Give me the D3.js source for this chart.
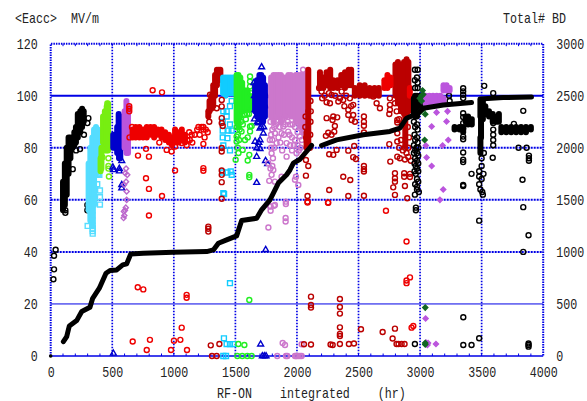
<!DOCTYPE html>
<html>
<head>
<meta charset="utf-8">
<script src="https://cdn.jsdelivr.net/npm/d3@7"></script>
<style>
html, body { margin: 0; padding: 0; background: #fff; }
text { font-family: "Liberation Mono", "DejaVu Sans Mono", monospace; fill: #222; }
</style>
</head>
<body>
<svg id="chart" width="587" height="401"></svg>
<script>
// dense runs where the markers merge: [hours, low, high]
// separate markers: [hours, Eacc]
var blackBands = [[100,56,67],[115,58,74],[130,62,80],[145,70,84],[160,76,84],[178,80,84],[192,81,86],[205,82,88],[220,84,93],[240,86,94],[255,88,95],[268,90,94]];
var blackRings = [[40,40.8],[27,38.5],[27,33.3],[22,29.5],[103,58.5],[119,56],[119,55],[179,71.8],[238,79.5],[206,79],[306,91.4],[298,89.5],[298,58],[298,56],[270,85]];
var cyanBands = [[308,56,74],[322,52,80],[338,50,84],[352,58,87],[368,70,88],[384,78,87]];
var cyanSquares = [[395,69.6],[373,69.6],[385,70],[400,63.6],[400,61],[400,58.2],[341,56],[341,54],[341,52],[341,50],[341,49],[341,48],[341,47],[300,50],[378,66],[360,64],[352,60]];
var limeBands = [[425,82,92],[440,79,94],[455,79,96],[466,79,97],[405,71,76],[412,72,80]];
var limeRings = [[420,76.4],[469,76],[469,73],[469,72],[473,69],[460,97]];
var blueBands = [[508,80,85],[525,80,85],[540,78,88],[552,78,93],[565,76,92],[578,80,84],[555,76,82]];
var blueTriangles = [[509,71.5],[557,72],[577,75],[577,65.8],[577,64.5],[509,1],[558,71],[505,72.5]];
var purpleBands = [[600,80,94],[615,78,98],[628,78,96]];
var purpleDiamonds = [[612,72],[605,70.2],[622,69.6],[612,67],[596,65.8],[617,63.2],[595,55.5],[603,56],[598,54],[592,53],[610,57],[617,60]];
var redBands = [[665,84,87],[690,84,88],[720,84,88],[750,84,87],[780,84,88],[810,85,88],[840,84,88],[870,85,87],[900,84,87],[930,83,86],[960,82,85],[985,81,84],[1010,82,87],[1040,82,86],[1065,83,87],[1090,82,85]];
var redRings = [[828,102.1],[904,101.3],[709,77],[774,79.6],[798,76.6],[774,68.3],[798,64.2],[904,61.5],[638,96],[638,95],[638,94],[942,79.2],[982,78.6],[1010,80.5],[1010,71.3],[1240,72.2],[882,82],[1240,81.5],[1104,81],[1064,81.8],[707,26.4],[752,25.6],[1104,23.5],[1104,22.4],[798,54],[1064,10.9],[666,5.6],[806,6.2],[780,2.3],[977,2.3],[1001,5.9],[1053,6.2],[1107,2.3],[1240,71.2],[1130,83],[1150,82],[1170,85],[1190,87],[1210,85],[1240,87],[1260,87],[1250,84],[1225,88],[1200,88],[1125,86],[1090,84],[1145,85],[1240,88],[640,84],[660,88],[1275,86],[1110,83]];
var dredBands = [[1280,92,94],[1290,94,98],[1305,95,100],[1320,96,104],[1335,100,108],[1350,104,110],[1365,106,110],[1378,108,110],[2092,94,110],[2092,81,94],[2078,80,86],[2187,103,109],[2215,103,107],[2240,104,109],[2270,103,110],[2295,103,106],[2330,103,106],[2360,104,108],[2390,103,109],[2420,104,110],[2440,104,110],[2470,100,103],[2510,100,104],[2550,100,104],[2590,100,103],[2630,100,103],[2665,100,103],[2800,100,112],[2820,97,113],[2845,94,112],[2870,93,113],[2890,92,114],[2905,94,113],[2880,81,92],[2850,94,100]];
var dredRings = [[1288,90],[1294,100.4],[1348,95.2],[1389,98.4],[1389,95.9],[1389,91.4],[1389,89.5],[1397,88.4],[1389,79.9],[1389,78.6],[1389,71.3],[1389,69.6],[1389,66.8],[1389,60.4],[1280,49.7],[1280,48.9],[1280,47.8],[1300,4.1],[1370,4.6],[1310,0],[1348,0],[2073,75.3],[2092,73],[2073,69.3],[2200,101.6],[2241,97.5],[2281,100.3],[2268,97.1],[2363,101.6],[2376,98.4],[2336,97.8],[2241,91.4],[2295,92],[2327,91.7],[2289,90.7],[2308,88.4],[2254,85.8],[2303,86.2],[2235,84.6],[2281,85],[2262,77.5],[2295,77.3],[2322,79.2],[2417,94.6],[2457,96.5],[2417,92.6],[2457,92.6],[2444,90.7],[2471,90],[2544,92],[2544,90],[2544,88.5],[2544,85.9],[2465,80.7],[2417,78.9],[2457,76.4],[2479,75.7],[2544,73],[2544,71.8],[2544,70.9],[2376,68.9],[2433,67.6],[2262,63.8],[2086,61.5],[2086,59.3],[2417,61.5],[2544,61.6],[2254,58.9],[2755,99],[2755,96.5],[2755,94.6],[2750,93],[2796,97.1],[2674,95.2],[2647,97.1],[2620,99.7],[2750,81.4],[2758,74.7],[2796,70.2],[2796,68.3],[2796,67],[2782,64.8],[2871,70.2],[2871,68.9],[2918,70],[2918,68.8],[2877,65.3],[2796,61.9],[2896,60.6],[2815,76.6],[2836,76],[2877,75.5],[2904,76.5],[2890,78],[2815,90.7],[2815,89.7],[2815,85.6],[2815,82.4],[2845,83],[2877,80],[2114,22.8],[2114,19.6],[2114,18.6],[2349,21.9],[2349,18.8],[2349,16.3],[2349,11],[2349,8.5],[2349,7.7],[2349,4.6],[2273,4.4],[2290,4.2],[2422,4.6],[2463,4.8],[2520,10.3],[2696,9.2],[2796,10.5],[2777,6.7],[2809,4.6],[2825,4.6],[2850,4.6],[2874,4.6],[2114,4.4],[2057,4.5],[2180,103],[2205,99],[2225,100],[2260,101],[2310,100],[2350,99],[2400,100],[2430,99],[2385,96],[2440,96],[2110,98],[2112,94],[2110,90],[2108,85],[2070,92],[2068,88],[2075,84],[2105,80],[2810,94],[2830,91],[2860,89],[2900,88],[2910,84],[2860,79],[2830,80],[2905,80],[2925,75]];
var brightBands = [[2710,103,106],[2735,103,108],[2760,104,107],[2917,100,103]];
var brightRings = [[2890,44],[2723,55.8],[2890,29],[2890,28],[2918,30.2],[2931,10.9],[2945,11.5],[2086,59],[2252,59]];
var skyBands = [[1400,101,107],[1420,100,107],[1440,101,107],[1460,101,107],[1480,101,107],[1495,103,107]];
var skySquares = [[1470,98],[1456,96],[1429,94],[1402,94],[1429,92],[1397,90],[1456,89],[1397,86.6],[1443,86.6],[1470,86.6],[1397,84],[1435,83.7],[1402,80.9],[1456,79],[1397,70.5],[1435,70.5],[1462,70.9],[1470,69.6],[1402,62.6],[1408,62.2],[1456,28],[1407,6.8],[1429,4.6],[1456,4.6],[1483,4.6],[1402,0],[1424,0]];
var greenBands = [[1510,90,108],[1525,88,108],[1540,92,107],[1555,94,105],[1570,95,102],[1585,95,102],[1600,95,102],[1618,95,100]];
var greenRings = [[1619,107.4],[1619,105.5],[1619,103.6],[1578,92.7],[1510,88],[1510,84.3],[1510,82.4],[1550,86.3],[1578,83],[1619,88.2],[1632,88.4],[1619,86.3],[1559,79.2],[1613,77.3],[1600,75.1],[1502,75.4],[1613,69.6],[1613,68.7],[1613,21.5],[1524,4.6],[1573,4.2],[1516,0],[1556,0],[1597,0],[1632,0],[1530,83],[1520,80],[1585,91],[1535,87],[1545,90],[1520,85],[1560,89],[1525,78],[1595,93],[1610,93],[1630,95],[1640,98],[1625,101],[1600,84]];
var blue2Bands = [[1660,94,104],[1675,92,106],[1695,91,108],[1710,92,108],[1725,90,107],[1740,92,104]];
var blue2Triangles = [[1713,111],[1660,94.6],[1700,92],[1686,89.5],[1700,87.5],[1727,85.6],[1660,82.4],[1700,83],[1673,79.9],[1700,79.6],[1673,76.6],[1673,66.6],[1762,73.8],[1746,40.8],[1705,4.5],[1719,0],[1735,0],[1749,0],[1745,75],[1690,82],[1655,100],[1650,105],[1655,91],[1680,90],[1710,88],[1730,88],[1745,96],[1750,100]];
var orchidBands = [[1790,92,107],[1810,90,108],[1830,92,108],[1850,93,108],[1870,90,108],[1890,94,107],[1910,92,107],[1930,94,108],[1950,92,108],[1970,92,107],[1990,90,108],[2010,90,108],[2030,88,108],[2050,86,108],[2065,86,108]];
var orchidRings = [[1821,85.6],[1889,88.2],[1929,86.2],[1875,85.6],[1780,83],[1835,81.8],[1916,81.8],[1984,83],[2024,84.3],[1794,77.9],[1916,76.6],[1997,77.9],[1767,74.1],[1808,71.5],[1794,69.6],[1775,67.3],[1821,67],[1875,68.9],[1992,68.9],[1984,67.7],[2011,65.7],[1780,57.6],[1821,58],[1910,59.3],[1910,58.4],[1768,49.4],[1908,53],[1908,51.7],[1786,57.4],[1786,55.8],[1813,57.7],[1840,0],[1911,0],[1922,0],[1992,0],[1984,0],[2000,0],[2012,0],[2025,0],[2038,0],[1884,5],[1903,4.2],[2038,4.5],[2050,110],[1785,90],[1800,87],[1790,85],[1815,88],[1830,89],[1845,90],[1860,88],[1880,91],[1905,89],[1925,90],[1945,89],[1965,89],[1985,88],[2005,86],[1800,83],[1815,80],[1790,80],[1805,76],[1850,84],[1865,82],[1895,85],[1940,85],[1960,84],[1975,81],[1945,81],[1960,79],[2005,81],[2015,79],[2030,80],[2040,83],[1800,73],[1785,72],[1880,79]];
var dgreenDiamonds = [[3042,18.6],[3042,5],[3042,4.4],[3042,92.9],[3037,83],[2998,99],[3012,100],[3025,100.5],[3012,98],[3020,102],[3005,94],[3030,95]];
var violetBands = [[3045,97,100],[3075,97,100],[3105,97,100],[3135,97,100],[3165,97,100],[3190,102,104],[3215,102,104],[3240,102,103],[3190,97,99]];
var violetDiamonds = [[3094,88.2],[3134,93.6],[3215,90.1],[3223,94],[3047,80.9],[3183,80.9],[3229,83],[3053,76.3],[3094,73],[3188,64],[3161,60],[3045,14.4],[3053,4.6],[3048,5.2],[3060,4.2],[3129,4.6],[3065,5]];
var bkColBands = [[3490,92,98],[3510,91,98],[3530,93,96],[3495,84,92],[3490,78,84],[3560,92,94],[3590,90,93],[3620,90,92],[3640,90,93],[3370,90,92],[3390,89,92],[3420,89,91],[3280,87,88],[3320,87,88],[3350,86,88],[3660,86,88],[3700,86,88],[3740,86,88],[3780,86,88],[3820,86,88],[3860,86,88],[3900,87,88],[2960,92,100],[2975,92,100],[3000,96,100],[2950,93,99]];
var bkRings = [[3350,102.9],[3350,101.7],[3350,100.4],[3350,99.1],[3350,93.3],[3350,91.8],[3350,89.5],[3350,87.5],[3350,84.3],[3350,83.3],[3350,78.2],[3350,75.4],[3350,74.5],[3350,65.7],[3350,65.3],[3521,103.8],[3594,101],[3594,89.5],[3594,87],[3594,85],[3594,83],[3594,81],[3590,76.2],[3500,76],[3518,78],[3500,73],[3480,71],[3480,69],[3500,68],[3515,70],[3480,66],[3490,64],[3505,63],[3510,62],[3838,94.2],[3762,89.2],[3800,80],[3865,80],[3884,77],[3884,76],[3884,75],[3832,67.7],[3418,70],[3838,57.2],[3480,52],[3881,46.4],[3838,40],[2966,57],[2966,56],[3351,14.9],[3480,6.8],[3351,4.2],[3418,4.2],[3881,4.8],[3881,4.2],[3881,3.6],[2958,4.6],[2958,110],[2980,110],[2975,107],[2958,106],[2980,105],[2960,103],[2980,103],[2950,90],[2975,89],[2960,88],[2980,87],[2955,85],[2975,84],[2960,83],[2980,82],[2950,81],[2970,80],[2985,80],[2960,79],[2975,78],[2950,78],[2985,77],[2960,76],[2975,75],[2955,74],[2985,74],[2965,73],[2975,72],[2955,71],[2985,71],[2965,70],[2975,68],[2985,67],[2960,66],[2975,65],[2990,63],[2975,64],[2958,62],[3240,98],[3235,100]];
// cumulative breakdowns (right axis), the trace has two small gaps
var bdFirst = [[103,138],[130,186],[151,288],[211,340],[252,427],[319,468],[341,554],[395,651],[449,795],[482,821],[536,827],[585,875],[617,885],[650,980],[752,987],[996,997],[1267,1003],[1321,1019],[1362,1083],[1429,1115],[1510,1154],[1551,1301],[1673,1323],[1713,1404],[1781,1500],[1849,1661],[1916,1741],[1943,1787],[1971,1853],[2025,1890],[2119,2022]];
var bdSecond = [[2200,2022],[2322,2076],[2539,2125],[2755,2157],[2836,2188],[2890,2284],[2985,2333],[3026,2380],[3188,2412],[3418,2435]];
var bdThird = [[3486,2468],[3675,2483],[3905,2487]];

var xTicks = [0, 500, 1000, 1500, 2000, 2500, 3000, 3500, 4000];
var yTicks = [0, 20, 40, 60, 80, 100, 120];
var bdTicks = [0, 500, 1000, 1500, 2000, 2500, 3000];

var plotLeft = 50.7, plotRight = 543.2, plotTop = 43.7, plotBottom = 356;
var x = d3.scaleLinear().domain([0, 4000]).range([plotLeft, plotRight]);
var y = d3.scaleLinear().domain([0, 120]).range([plotBottom, plotTop]);
var yBD = d3.scaleLinear().domain([0, 3000]).range([plotBottom, plotTop]);
var gridBlue = "#0000e6";
var squeeze = 0.833; // the original font is narrow and tall

var svg = d3.select("#chart");

// grid
var grid = svg.append("g").attr("stroke", gridBlue).attr("fill", "none");
grid.selectAll(".h").data(yTicks.filter(function (d) { return d > 0 && d < 120; })).enter().append("line")
    .attr("x1", plotLeft).attr("x2", plotRight)
    .attr("y1", function (d) { return y(d); }).attr("y2", function (d) { return y(d); })
    .attr("stroke-width", function (d) { return d == 20 ? 1 : 2; })
    .attr("stroke-dasharray", function (d) { return (d == 20 || d == 100) ? null : "2 1"; });
grid.selectAll(".v").data(xTicks.filter(function (d) { return d > 0 && d < 4000; })).enter().append("line")
    .attr("y1", plotTop).attr("y2", plotBottom)
    .attr("x1", function (d) { return x(d); }).attr("x2", function (d) { return x(d); })
    .attr("stroke-width", 1.7).attr("stroke-dasharray", "1.5 1.5");

// frame
grid.append("path").attr("d", "M" + plotLeft + "," + plotBottom + "V" + plotTop + "H" + plotRight + "V" + plotBottom)
    .attr("stroke-width", 2).attr("stroke-dasharray", "1.5 1");
grid.append("line").attr("x1", plotLeft).attr("x2", plotRight).attr("y1", plotBottom).attr("y2", plotBottom).attr("stroke-width", 1.5);

// minor ticks every 100 hr
var minor = d3.range(100, 4000, 100);
grid.selectAll(".mb").data(minor).enter().append("line")
    .attr("x1", function (d) { return x(d); }).attr("x2", function (d) { return x(d); })
    .attr("y1", plotBottom).attr("y2", plotBottom - 2.5);
grid.selectAll(".mt").data(minor).enter().append("line")
    .attr("x1", function (d) { return x(d); }).attr("x2", function (d) { return x(d); })
    .attr("y1", plotTop).attr("y2", plotTop + 2.5);

// tick labels
function styleLabels(g, anchor) {
    g.select(".domain").remove();
    g.selectAll("line").remove();
    g.selectAll("text")
        .style("font-size", "14px")
        .style("font-family", '"Liberation Mono", monospace')
        .attr("fill", "#222")
        .attr("text-anchor", anchor)
        .attr("x", function () { return (+this.getAttribute("x") || 0) / squeeze; })
        .attr("transform", "scale(" + squeeze + ",1)");
}
svg.append("g").attr("transform", "translate(0," + plotBottom + ")")
    .call(d3.axisBottom(x).tickValues(xTicks).tickFormat(d3.format("d")).tickSize(0).tickPadding(11))
    .call(styleLabels, "middle");
svg.append("g").attr("transform", "translate(" + plotLeft + ",0)")
    .call(d3.axisLeft(y).tickValues(yTicks).tickSize(0).tickPadding(13))
    .call(styleLabels, "end");
svg.append("g").attr("transform", "translate(" + plotRight + ",0)")
    .call(d3.axisRight(yBD).tickValues(bdTicks).tickFormat(d3.format("d")).tickSize(0).tickPadding(13))
    .call(styleLabels, "start");

// axis titles
function title(txt, px, py) {
    svg.append("text").attr("x", px / squeeze).attr("y", py)
        .attr("transform", "scale(" + squeeze + ",1)")
        .style("white-space", "pre")
        .style("font-size", "14px")
        .text(txt);
}
title("<Eacc>  MV/m", 15, 23);
title("Total# BD", 503, 23);
title("RF-ON    integrated    (hr)", 217, 398);

// markers
var plot = svg.append("g");
var sq = d3.symbol().type(d3.symbolSquare).size(24)();
var tri = d3.symbol().type(d3.symbolTriangle).size(15)();
var dia = d3.symbol().type(d3.symbolSquare).size(13)();

function bands(rows, color) {
    plot.append("g").selectAll("line").data(rows).enter().append("line")
        .attr("x1", function (d) { return x(d[0]); }).attr("x2", function (d) { return x(d[0]); })
        .attr("y1", function (d) { return y(d[1]); }).attr("y2", function (d) { return y(d[2]); })
        .attr("stroke", color).attr("stroke-width", 6).attr("stroke-linecap", "round");
}
function marks(rows, color, shape, filled) {
    var g = plot.append("g");
    var sel;
    if (shape) {
        var turn = shape == dia ? " rotate(45)" : "";
        sel = g.selectAll("path").data(rows).enter().append("path").attr("d", shape)
            .attr("transform", function (d) { return "translate(" + x(d[0]) + "," + y(d[1]) + ")" + turn; });
    } else {
        sel = g.selectAll("circle").data(rows).enter().append("circle").attr("r", 2.5)
            .attr("cx", function (d) { return x(d[0]); }).attr("cy", function (d) { return y(d[1]); });
    }
    sel.attr("fill", filled ? color : "none").attr("stroke", color).attr("stroke-width", 1.4);
}

bands(blackBands, "#000"); marks(blackRings, "#000");
bands(cyanBands, "#55ddff"); marks(cyanSquares, "#55ddff", sq);
bands(limeBands, "#77ee11"); marks(limeRings, "#77ee11");
bands(blueBands, "#0000cc"); marks(blueTriangles, "#0000cc", tri);
bands(purpleBands, "#bb55dd"); marks(purpleDiamonds, "#bb66cc", dia);
bands(redBands, "#ee0000"); marks(redRings, "#ee0000");
bands(dredBands.slice(0, 8), "#bb0000");
bands(skyBands, "#11ccff"); marks(skySquares, "#11ccff", sq);
bands(greenBands, "#22ee22"); marks(greenRings, "#22ee22");
bands(blue2Bands, "#0000cc"); marks(blue2Triangles, "#0000cc", tri);
bands(orchidBands, "#cc77cc"); marks(orchidRings, "#cc77cc");
bands(dredBands.slice(8), "#bb0000"); marks(dredRings, "#bb0000");
bands(brightBands, "#ee0000"); marks(brightRings, "#ee0000");
bands(bkColBands, "#000"); marks(bkRings, "#000");
bands(violetBands, "#bb55dd"); marks(violetDiamonds, "#bb55dd", dia, true);
marks(dgreenDiamonds, "#116622", dia, true);

// BD trace on top
var bdLine = d3.line().x(function (d) { return x(d[0]); }).y(function (d) { return yBD(d[1]); });
[bdFirst, bdSecond, bdThird].forEach(function (run) {
    plot.append("path").attr("d", bdLine(run)).attr("fill", "none")
        .attr("stroke", "#000").attr("stroke-width", 5).attr("stroke-linecap", "round").attr("stroke-linejoin", "round");
});
plot.append("circle").attr("cx", x(0)).attr("cy", y(0)).attr("r", 1.8).attr("fill", "#000");
</script>
</body>
</html>
